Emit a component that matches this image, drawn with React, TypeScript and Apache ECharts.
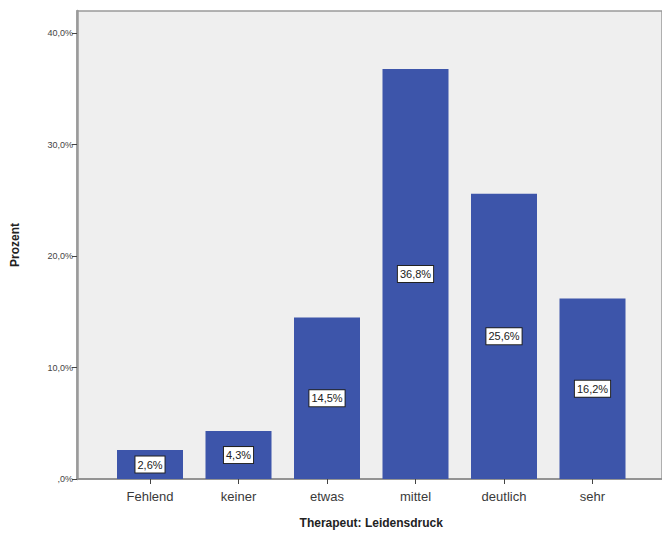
import React, { useEffect, useRef } from "react";
import * as echarts from "echarts";

const categories = ["Fehlend", "keiner", "etwas", "mittel", "deutlich", "sehr"];
const percentValues = [2.6, 4.3, 14.5, 36.8, 25.6, 16.2];
const yTickValues = [0, 10, 20, 30, 40];

const fmt = (v: number) => (v === 0 ? ",0%" : v.toFixed(1).replace(".", ",") + "%");

export default function App() {
  const ref = useRef<HTMLDivElement>(null);
  useEffect(() => {
    if (!ref.current) return;
    const chart = echarts.init(ref.current, null, { renderer: "svg" });
    const font = "'Liberation Sans', Arial, sans-serif";
    chart.setOption({
      animation: false,
      textStyle: { fontFamily: font },
      grid: [
        { left: 77, right: -2, top: 11, bottom: 61, show: true, backgroundColor: "#efefef", borderColor: "#9a9a9a", borderWidth: 1.5 },
        { left: 105.75, width: 531, top: 11, bottom: 61 },
      ],
      xAxis: [
        {
          type: "value", gridIndex: 0, min: 0, max: 1,
          axisLine: { show: true, onZero: false, lineStyle: { color: "#8a8a8a", width: 1.5 } },
          axisTick: { show: false }, axisLabel: { show: false }, splitLine: { show: false },
        },
        {
          type: "category", gridIndex: 1, data: categories, boundaryGap: true,
          axisLine: { show: false },
          axisTick: { show: true, alignWithLabel: true, length: 5, lineStyle: { color: "#444" } },
          axisLabel: { fontSize: 13, color: "#3a3a3a", margin: 11, fontFamily: font },
          name: "Therapeut: Leidensdruck", nameLocation: "middle", nameGap: 38,
          nameTextStyle: { fontSize: 12, fontWeight: "bold", color: "#222", fontFamily: font },
        },
      ],
      yAxis: [
        {
          type: "value", gridIndex: 0, min: 0, max: 42,
          axisLine: { show: true, lineStyle: { color: "#9a9a9a", width: 2.5 } },
          axisTick: { show: true, length: 5, customValues: yTickValues, lineStyle: { color: "#444" } },
          axisLabel: { fontSize: 9, color: "#444", margin: 4, customValues: yTickValues, formatter: (v: number) => fmt(v), fontFamily: font },
          splitLine: { show: false },
          name: "Prozent", nameLocation: "middle", nameGap: 56, nameRotate: 90,
          nameTextStyle: { fontSize: 12, fontWeight: "bold", color: "#222", fontFamily: font },
        },
        {
          type: "value", gridIndex: 1, min: 0, max: 42, show: false,
        },
      ],
      series: [
        {
          type: "bar", xAxisIndex: 1, yAxisIndex: 1, data: percentValues, barWidth: 66,
          itemStyle: { color: "#3d55aa" },
          label: {
            show: true, position: "inside", formatter: (p: any) => fmt(p.value),
            backgroundColor: "#ffffff", borderColor: "#222", borderWidth: 1, padding: [3, 2, 2, 2],
            fontSize: 11, color: "#222", fontFamily: font,
          },
        },
      ],
    });
    return () => chart.dispose();
  }, []);
  return <div ref={ref} style={{ width: 662, height: 540, position: "absolute", left: 0, top: 0 }} />;
}
